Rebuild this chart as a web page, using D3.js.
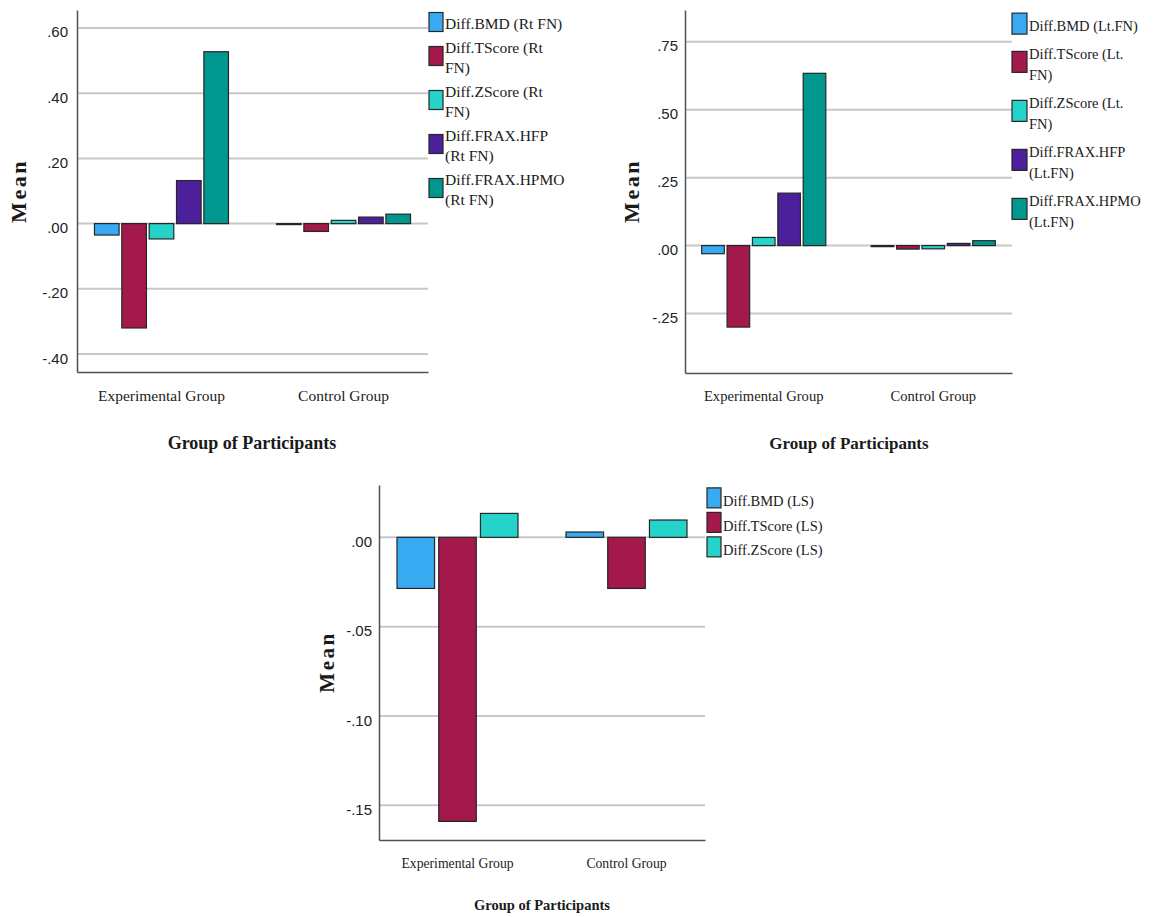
<!DOCTYPE html>
<html>
<head>
<meta charset="utf-8">
<script src="https://cdn.jsdelivr.net/npm/d3@7"></script>
<style>
  body { margin: 0; background: #ffffff; }
  svg { display: block; }
</style>
</head>
<body>
<svg id="chart" width="1157" height="917"></svg>
<script>
// ---------------- DATA ----------------
const groups = ["Experimental Group", "Control Group"];

// Chart A — right femoral neck
const seriesA = ["Diff.BMD (Rt FN)", "Diff.TScore (Rt FN)", "Diff.ZScore (Rt FN)", "Diff.FRAX.HFP (Rt FN)", "Diff.FRAX.HPMO (Rt FN)"];
const legendLinesA = [["Diff.BMD (Rt FN)"], ["Diff.TScore (Rt", "FN)"], ["Diff.ZScore (Rt", "FN)"], ["Diff.FRAX.HFP", "(Rt FN)"], ["Diff.FRAX.HPMO", "(Rt FN)"]];
const valuesAExperimental = [-0.035, -0.320, -0.047, 0.132, 0.527];
const valuesAControl = [-0.003, -0.024, 0.010, 0.020, 0.029];
const ticksA = [-0.4, -0.2, 0, 0.2, 0.4, 0.6];
const tickLabelsA = ["-.40", "-.20", ".00", ".20", ".40", ".60"];

// Chart B — left femoral neck
const seriesB = ["Diff.BMD (Lt.FN)", "Diff.TScore (Lt.FN)", "Diff.ZScore (Lt.FN)", "Diff.FRAX.HFP (Lt.FN)", "Diff.FRAX.HPMO (Lt.FN)"];
const legendLinesB = [["Diff.BMD (Lt.FN)"], ["Diff.TScore (Lt.", "FN)"], ["Diff.ZScore (Lt.", "FN)"], ["Diff.FRAX.HFP", "(Lt.FN)"], ["Diff.FRAX.HPMO", "(Lt.FN)"]];
const valuesBExperimental = [-0.030, -0.300, 0.030, 0.193, 0.634];
const valuesBControl = [-0.004, -0.013, -0.012, 0.008, 0.018];
const ticksB = [-0.25, 0, 0.25, 0.5, 0.75];
const tickLabelsB = ["-.25", ".00", ".25", ".50", ".75"];

// Chart C — lumbar spine
const seriesC = ["Diff.BMD (LS)", "Diff.TScore (LS)", "Diff.ZScore (LS)"];
const legendLinesC = [["Diff.BMD (LS)"], ["Diff.TScore (LS)"], ["Diff.ZScore (LS)"]];
const valuesCExperimental = [-0.0286, -0.159, 0.0134];
const valuesCControl = [0.003, -0.0286, 0.0097];
const ticksC = [-0.15, -0.10, -0.05, 0];
const tickLabelsC = ["-.15", "-.10", "-.05", ".00"];

const seriesColors = ["#38aaf2", "#a3194b", "#25d3c9", "#4c1f9b", "#00988e"];

const yTitle = "Mean";
const xTitle = "Group of Participants";

// ---------------- DRAWING ----------------
const svg = d3.select("#chart");
const SERIF = "'Liberation Serif', 'Times New Roman', serif";
const SANS = "'Liberation Sans Narrow', 'Arial Narrow', 'Liberation Sans', Arial, sans-serif";

function drawChart(cfg) {
  const g = svg.append("g");
  const y = d3.scaleLinear().domain(cfg.domain).range([cfg.yBot, cfg.yTop]);
  const xg = d3.scaleBand().domain(groups).range([cfg.x0, cfg.x1])
    .paddingInner(cfg.padInner).paddingOuter(cfg.padOuter);
  const xs = d3.scaleBand().domain(d3.range(cfg.series.length))
    .range([0, xg.bandwidth()]).paddingInner(cfg.barPad);

  // gridlines
  g.append("g").selectAll("line").data(cfg.ticks).join("line")
    .attr("x1", cfg.x0).attr("x2", cfg.x1)
    .attr("y1", d => y(d)).attr("y2", d => y(d))
    .attr("stroke", "#c8c8c8").attr("stroke-width", 2);

  // bars
  const rows = [
    { group: groups[0], values: cfg.exp },
    { group: groups[1], values: cfg.ctl }
  ];
  const gg = g.append("g").selectAll("g").data(rows).join("g")
    .attr("transform", d => `translate(${xg(d.group)},0)`);
  gg.selectAll("rect").data(d => d.values.map((v, i) => ({ v, i }))).join("rect")
    .attr("x", d => xs(d.i))
    .attr("width", xs.bandwidth())
    .attr("y", d => y(Math.max(0, d.v)))
    .attr("height", d => Math.max(1, Math.abs(y(d.v) - y(0))))
    .attr("fill", d => seriesColors[d.i])
    .attr("stroke", "#262626").attr("stroke-width", 1.2);

  // left axis
  const ya = d3.axisLeft(y).tickValues(cfg.ticks)
    .tickFormat((d, i) => cfg.tickLabels[i]).tickSize(0).tickSizeOuter(0).tickPadding(cfg.tickPad);
  const yag = g.append("g").attr("transform", `translate(${cfg.x0},0)`).call(ya);
  yag.select(".domain").attr("stroke", "#505050").attr("stroke-width", 1.5);
  yag.selectAll("text").attr("font-family", SANS).attr("font-size", cfg.tickFont)
    .attr("fill", "#222").attr("dy", "0.6em");

  // bottom axis
  const xa = d3.axisBottom(xg).tickSize(0).tickSizeOuter(0);
  const xag = g.append("g").attr("transform", `translate(0,${cfg.yBot})`).call(xa);
  xag.select(".domain").attr("stroke", "#505050").attr("stroke-width", 1.5);
  xag.selectAll("text").attr("font-family", SERIF).attr("font-size", cfg.catFont)
    .attr("fill", "#222").attr("y", cfg.catOffset).attr("dy", 0);

  // axis titles
  g.append("text").attr("transform", `translate(${cfg.meanX},${cfg.meanY}) rotate(-90)`)
    .attr("text-anchor", "middle").attr("font-family", SERIF).attr("font-weight", "bold")
    .attr("font-size", cfg.meanFont).attr("letter-spacing", cfg.meanSpacing).attr("fill", "#1a1a1a")
    .text(yTitle);
  g.append("text").attr("x", cfg.xtX).attr("y", cfg.xtY)
    .attr("text-anchor", "middle").attr("font-family", SERIF).attr("font-weight", "bold")
    .attr("font-size", cfg.xtFont).attr("fill", "#1a1a1a").text(xTitle);

  // legend
  let base = cfg.legY;
  const lg = g.append("g");
  cfg.legendLines.forEach((lines, i) => {
    const n = lines.length;
    const cy = base - 0.75 * cfg.legLineH + n * cfg.legLineH / 2 - 2;
    lg.append("rect").attr("x", cfg.legX).attr("y", cy - cfg.swH / 2)
      .attr("width", cfg.swW).attr("height", cfg.swH)
      .attr("fill", seriesColors[i]).attr("stroke", "#262626").attr("stroke-width", 1.2);
    const t = lg.append("text").attr("font-family", SERIF).attr("font-size", cfg.legFont).attr("fill", "#1a1a1a");
    lines.forEach((ln, j) => {
      t.append("tspan").attr("x", cfg.legX + cfg.swW + 2).attr("y", base + j * cfg.legLineH).text(ln);
    });
    base += n * cfg.legLineH + cfg.legPad;
  });
}

drawChart({
  series: seriesA, legendLines: legendLinesA, exp: valuesAExperimental, ctl: valuesAControl,
  ticks: ticksA, tickLabels: tickLabelsA,
  domain: [-0.455, 0.655], x0: 77, x1: 428, yTop: 10, yBot: 372,
  padInner: 0.264, padOuter: 0.096, barPad: 0.1,
  tickPad: 9, tickFont: 15, catFont: 15.5, catOffset: 29,
  meanX: 26, meanY: 191, meanFont: 22, meanSpacing: 2.5,
  xtX: 252, xtY: 449, xtFont: 18,
  legX: 429, legY: 29, legLineH: 20, legPad: 4, legFont: 15.5, swW: 14, swH: 19
});

drawChart({
  series: seriesB, legendLines: legendLinesB, exp: valuesBExperimental, ctl: valuesBControl,
  ticks: ticksB, tickLabels: tickLabelsB,
  domain: [-0.469, 0.867], x0: 685, x1: 1012, yTop: 10, yBot: 373,
  padInner: 0.268, padOuter: 0.0985, barPad: 0.11,
  tickPad: 7, tickFont: 15, catFont: 14.6, catOffset: 28,
  meanX: 639, meanY: 191, meanFont: 22, meanSpacing: 2.5,
  xtX: 849, xtY: 449, xtFont: 17,
  legX: 1012, legY: 31, legLineH: 21.5, legPad: 6, legFont: 14.5, swW: 15, swH: 21
});

drawChart({
  series: seriesC, legendLines: legendLinesC, exp: valuesCExperimental, ctl: valuesCControl,
  ticks: ticksC, tickLabels: tickLabelsC,
  domain: [-0.1694, 0.0293], x0: 379, x1: 705, yTop: 485, yBot: 840,
  padInner: 0.284, padOuter: 0.1065, barPad: 0.1,
  tickPad: 7, tickFont: 15, catFont: 13.7, catOffset: 28,
  meanX: 334, meanY: 662, meanFont: 21, meanSpacing: 2.5,
  xtX: 542, xtY: 910, xtFont: 14.5,
  legX: 707, legY: 506, legLineH: 24.5, legPad: 0, legFont: 14.5, swW: 14, swH: 20
});
</script>
</body>
</html>
